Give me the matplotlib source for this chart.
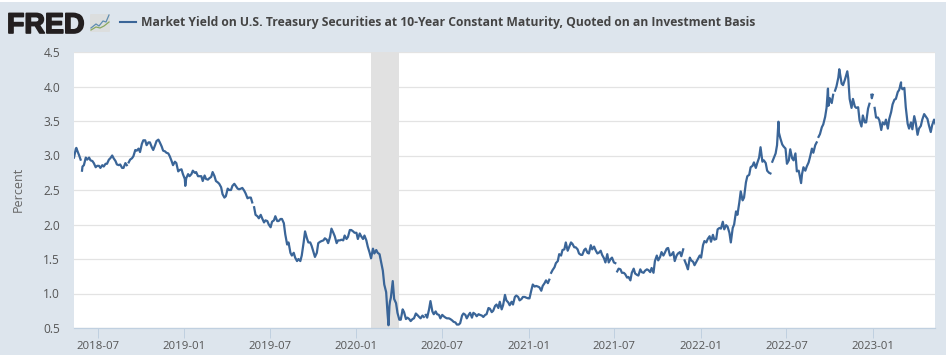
import matplotlib
matplotlib.use("Agg")
import matplotlib.pyplot as plt
import matplotlib.dates as mdates
import matplotlib.patheffects as pe
from matplotlib.patches import FancyBboxPatch, Rectangle
from matplotlib.lines import Line2D
import pandas as pd
import numpy as np

TITLE = "Market Yield on U.S. Treasury Securities at 10-Year Constant Maturity, Quoted on an Investment Basis"
YLABEL = "Percent"
YTICKS = [0.5, 1.0, 1.5, 2.0, 2.5, 3.0, 3.5, 4.0, 4.5]
XTICKS = ["2018-07-01", "2019-01-01", "2019-07-01", "2020-01-01", "2020-07-01",
          "2021-01-01", "2021-07-01", "2022-01-01", "2022-07-01", "2023-01-01"]
RECESSION = ["2020-02-01", "2020-04-01"]

y2018 = [2.97, 3.07, 2.94, 2.86, 2.94, 2.93, 2.89, 2.85, 2.82, 2.84, 2.88, 2.96, 2.96, 2.87, 2.87, 2.82,
         2.86, 2.94, 2.99, 3.07, 3.05, 3.22, 3.15, 3.19, 3.08, 3.21, 3.19, 3.07, 3.04, 2.99, 2.86, 2.89, 2.79, 2.73]
y2019 = [2.67, 2.70, 2.78, 2.76, 2.70, 2.63, 2.66, 2.67, 2.76, 2.63, 2.59, 2.44, 2.41, 2.50, 2.56, 2.56,
         2.51, 2.53, 2.45, 2.39, 2.32, 2.14, 2.09, 2.09, 2.06, 2.00, 2.04, 2.12, 2.05, 2.08, 1.86, 1.74, 1.55,
         1.52, 1.50, 1.55, 1.90, 1.74, 1.69, 1.53, 1.73, 1.76, 1.80, 1.73, 1.94, 1.83, 1.77, 1.78, 1.84, 1.82,
         1.92, 1.88]
y2020 = [1.79, 1.83, 1.84, 1.68, 1.51, 1.58, 1.59, 1.47, 1.13, 0.71, 0.94, 0.92, 0.72, 0.62, 0.73, 0.65,
         0.60, 0.64, 0.69, 0.64, 0.66, 0.65, 0.89, 0.70, 0.70, 0.64, 0.67, 0.64, 0.63, 0.59, 0.55, 0.57, 0.71,
         0.64, 0.72, 0.72, 0.67, 0.69, 0.66, 0.70, 0.78, 0.75, 0.84, 0.88, 0.83, 0.90, 0.83, 0.84, 0.97, 0.90,
         0.95, 0.94]
y2021 = [0.93, 1.13, 1.11, 1.09, 1.11, 1.19, 1.20, 1.34, 1.44, 1.57, 1.63, 1.74, 1.67, 1.72, 1.67, 1.58,
         1.56, 1.65, 1.58, 1.64, 1.63, 1.59, 1.56, 1.45, 1.45, 1.52, 1.44, 1.36, 1.30, 1.28, 1.24, 1.30, 1.29,
         1.26, 1.31, 1.33, 1.34, 1.37, 1.47, 1.48, 1.60, 1.59, 1.66, 1.56, 1.47, 1.58, 1.54, 1.48, 1.35, 1.48,
         1.41, 1.50]
y2022 = [1.52, 1.76, 1.79, 1.75, 1.78, 1.93, 1.94, 1.93, 1.97, 1.74, 2.00, 2.14, 2.48, 2.39, 2.70, 2.83,
         2.90, 2.89, 3.12, 2.93, 2.78, 2.74, 2.96, 3.15, 3.25, 3.13, 2.88, 3.09, 2.93, 2.77, 2.67, 2.83, 2.84,
         2.98, 3.04, 3.19, 3.31, 3.45, 3.69, 3.83, 3.88, 4.00, 4.21, 4.02, 4.17, 3.82, 3.82, 3.69, 3.51, 3.58,
         3.48, 3.75, 3.88]
y2023 = [3.55, 3.51, 3.48, 3.52, 3.53, 3.74, 3.82, 3.95, 3.96, 3.70, 3.39, 3.38, 3.48, 3.39, 3.52, 3.57,
         3.44, 3.44, 3.46]
yields = y2018 + y2019 + y2020 + y2021 + y2022 + y2023
first_week = "2018-05-12"

m2018 = [3.10, 3.00, 2.84, 2.97, 2.97, 2.92, 2.83, 2.85, 2.86, 2.88, 2.94, 3.00, 2.92, 2.86, 2.82, 2.89,
         2.90, 2.96, 3.08, 3.10, 3.17, 3.22, 3.19, 3.12, 3.15, 3.23, 3.13, 3.06, 3.03, 2.92, 2.91, 2.77, 2.80, 2.66]
m2019 = [2.73, 2.73, 2.75, 2.70, 2.70, 2.71, 2.65, 2.69, 2.70, 2.61, 2.54, 2.39, 2.52, 2.50, 2.59, 2.52,
         2.52, 2.49, 2.38, 2.39, 2.25, 2.12, 2.14, 2.03, 2.05, 1.96, 2.06, 2.05, 2.08, 2.02, 1.71, 1.59, 1.59,
         1.47, 1.47, 1.74, 1.80, 1.74, 1.60, 1.59, 1.75, 1.77, 1.78, 1.82, 1.88, 1.73, 1.77, 1.77, 1.79, 1.92,
         1.90, 1.88]
m2020 = [1.87, 1.79, 1.77, 1.59, 1.65, 1.63, 1.57, 1.33, 1.02, 0.82, 1.18, 0.86, 0.62, 0.77, 0.63, 0.63,
         0.63, 0.71, 0.66, 0.68, 0.69, 0.77, 0.74, 0.74, 0.69, 0.69, 0.65, 0.64, 0.61, 0.58, 0.55, 0.68, 0.69,
         0.69, 0.65, 0.70, 0.70, 0.68, 0.69, 0.79, 0.73, 0.82, 0.79, 0.77, 0.98, 0.87, 0.88, 0.95, 0.95, 0.92,
         0.95, 0.93]
m2021 = [1.05, 1.10, 1.10, 1.04, 1.15, 1.15, 1.30, 1.38, 1.47, 1.55, 1.64, 1.62, 1.74, 1.67, 1.64, 1.56,
         1.63, 1.59, 1.70, 1.68, 1.58, 1.62, 1.51, 1.57, 1.50, 1.45, 1.32, 1.35, 1.30, 1.23, 1.19, 1.36, 1.27,
         1.35, 1.30, 1.35, 1.31, 1.30, 1.55, 1.53, 1.55, 1.65, 1.55, 1.60, 1.55, 1.60, 1.64, 1.41, 1.52, 1.46,
         1.46, 1.55]
m2022 = [1.70, 1.74, 1.83, 1.85, 1.79, 1.95, 2.04, 1.99, 1.88, 1.95, 2.19, 2.32, 2.35, 2.61, 2.72, 2.85,
         2.82, 2.97, 2.91, 2.89, 2.75, 2.91, 3.03, 3.33, 3.16, 3.10, 2.93, 2.96, 3.03, 2.78, 2.73, 2.78, 2.90,
         3.10, 3.15, 3.27, 3.41, 3.56, 3.72, 3.76, 3.94, 4.13, 4.04, 4.10, 4.12, 3.69, 3.71, 3.70, 3.42, 3.48,
         3.68, 3.88, 3.69]
m2023 = [3.55, 3.37, 3.45, 3.39, 3.63, 3.81, 3.92, 4.00, 3.98, 3.46, 3.48, 3.57, 3.30, 3.43, 3.60, 3.53,
         3.34, 3.52]
midweek = m2018 + m2019 + m2020 + m2021 + m2022 + m2023
first_midweek = "2018-05-16"

extra_dates = ["2018-05-17", "2018-05-29", "2019-01-03", "2020-03-09", "2020-03-12", "2020-03-18",
               "2022-12-29", "2022-10-21", "2022-11-07", "2023-03-01", "2022-06-14", "2022-08-01", "2022-09-27"]
extra_vals = [3.11, 2.78, 2.56, 0.54, 0.88, 1.18, 3.83, 4.25, 4.22, 4.06, 3.49, 2.60, 3.97]
gap_dates = ["2018-05-28", "2018-09-03", "2019-05-27", "2020-05-25", "2021-02-15", "2021-07-05",
             "2021-11-25", "2022-05-30", "2022-09-05", "2022-10-10", "2022-12-26", "2023-01-02"]

BG = "#dde5ed"
LINE = "#3a6598"
GRID = "#e3e3e3"
AXIS = "#c0d0e0"
TXT = "#555555"
FONT = "Open Sans"

W, H = 946, 355
fig = plt.figure(figsize=(W / 100, H / 100), dpi=100, facecolor=BG)
L, R, T, B = 74, 935, 52, 328
ax = fig.add_axes([L / W, 1 - B / H, (R - L) / W, (B - T) / H], facecolor="white")

s = pd.concat([
    pd.Series(yields, index=pd.date_range(first_week, periods=len(yields), freq="7D")),
    pd.Series(midweek, index=pd.date_range(first_midweek, periods=len(midweek), freq="7D")),
    pd.Series(extra_vals, index=pd.to_datetime(extra_dates)),
    pd.Series(np.nan, index=pd.to_datetime(gap_dates)),
]).sort_index()

ax.axvspan(pd.Timestamp(RECESSION[0]), pd.Timestamp(RECESSION[1]), color="#e1e1e1", lw=0, zorder=1)
ax.plot(s.index, s.values, color=LINE, lw=1.6, solid_joinstyle="round", zorder=3)

ax.set_xlim(pd.Timestamp("2018-05-12"), pd.Timestamp("2023-05-12"))
ax.set_ylim(0.5, 4.5)
ax.set_yticks(YTICKS)
ax.set_yticklabels([f"{v:.1f}" for v in YTICKS], fontfamily=FONT, fontsize=8.6, color=TXT)
ax.set_xticks([mdates.date2num(pd.Timestamp(d)) for d in XTICKS])
ax.set_xticklabels([d[:7] for d in XTICKS], fontfamily=FONT, fontsize=8.2, color=TXT)
ax.grid(axis="y", color=GRID, lw=0.9, zorder=0)
ax.set_axisbelow(True)
for side in ["top", "left", "right"]:
    ax.spines[side].set_visible(False)
ax.spines["bottom"].set_color(AXIS)
ax.spines["bottom"].set_linewidth(0.9)
ax.tick_params(axis="x", length=7.2, width=0.7, color=AXIS, pad=2.5)
ax.tick_params(axis="y", length=0, pad=10)

fig.text(18 / W, 1 - 189 / H, YLABEL, rotation=90, ha="center", va="center",
         fontfamily=FONT, fontsize=9, color="#666666")

# header
fig.add_artist(Rectangle((0, 1 - 2 / H), 1, 2 / H, transform=fig.transFigure, color="white", lw=0))
logo = fig.text(7 / W, 1 - 33 / H, "FRED", fontfamily="Liberation Sans", fontweight="bold", fontsize=20.5,
                color="#231f20", ha="left", va="baseline")
logo.set_path_effects([pe.withStroke(linewidth=1.2, foreground="#231f20")])
fig.add_artist(FancyBboxPatch((90 / W, 1 - 32 / H), 20 / W, 18 / H, boxstyle="round,pad=0,rounding_size=0.002",
                              transform=fig.transFigure, fc="#dcdede", ec="none"))
fig.add_artist(Line2D(np.array([91, 96, 99, 103, 106, 109]) / W, 1 - np.array([28, 24, 26, 21, 22, 15]) / H,
                      transform=fig.transFigure, color="#5f8db0", lw=0.9))
fig.add_artist(Line2D(np.array([91, 96, 100, 104, 109]) / W, 1 - np.array([30, 27, 28, 26, 22]) / H,
                      transform=fig.transFigure, color="#8aa860", lw=0.9))
fig.add_artist(Line2D([120 / W, 136 / W], [1 - 22 / H, 1 - 22 / H], transform=fig.transFigure, color=LINE, lw=1.5))
fig.text(141 / W, 1 - 22.5 / H, TITLE, fontfamily=FONT, fontweight="bold", fontsize=8.72, color="#444444",
         ha="left", va="center")

fig.savefig("out.png", dpi=100, facecolor=BG)
